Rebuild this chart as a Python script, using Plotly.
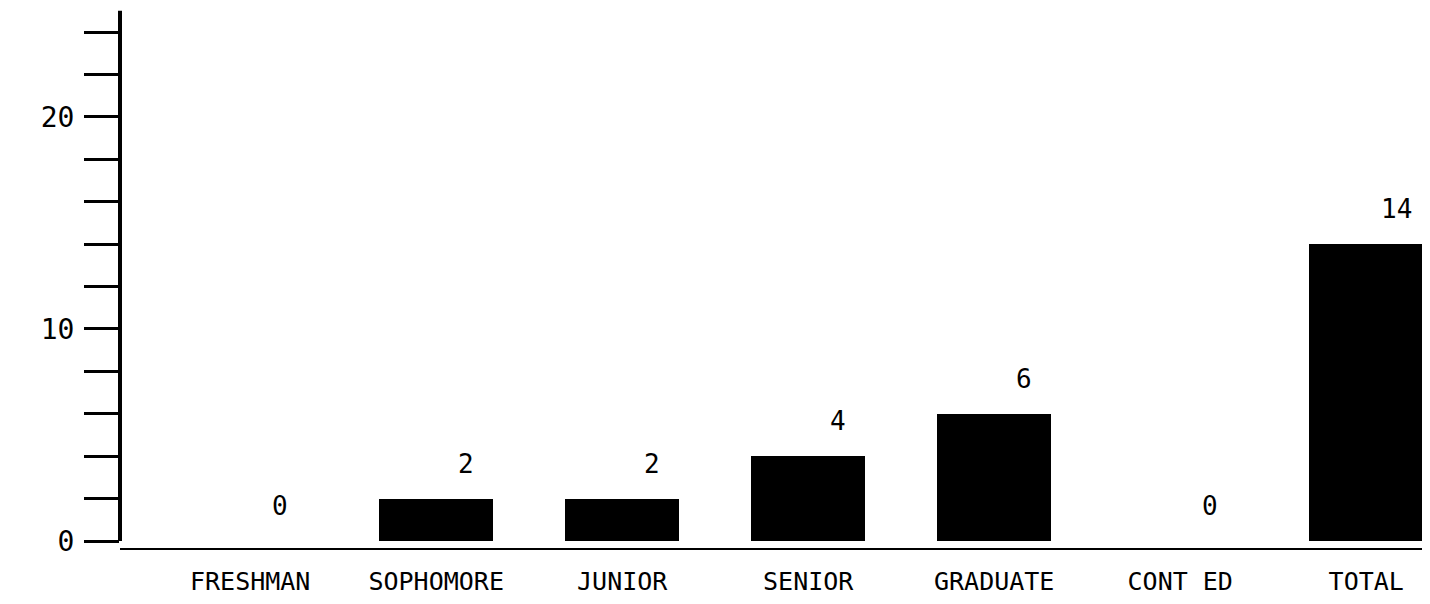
import plotly.graph_objects as go

# Enrollment counts by class level
categories = ["FRESHMAN", "SOPHOMORE", "JUNIOR", "SENIOR", "GRADUATE", "CONT ED", "TOTAL"]
counts = [0, 2, 2, 4, 6, 0, 14]

# Y axis tick marks every 2, labelled every 10
y_ticks = [0, 2, 4, 6, 8, 10, 12, 14, 16, 18, 20, 22, 24]
y_tick_labels = ["0", "", "", "", "", "10", "", "", "", "", "20", "", ""]
y_top = 25

FONT = "DejaVu Sans Mono"

fig = go.Figure()
fig.add_trace(go.Bar(
    x=categories,
    y=counts,
    width=0.61,
    marker=dict(color="black", line=dict(width=0)),
    hoverinfo="x+y",
))

# Value labels, offset up and to the right of each bar top
for cat, val in zip(categories, counts):
    fig.add_annotation(
        x=cat, y=val, xref="x", yref="y",
        text=str(val), showarrow=False,
        yanchor="bottom", xanchor="center",
        yshift=18, xshift=30,
        font=dict(family=FONT, size=26, color="black"),
    )

# Vertical axis line from 0 up to the top of the scale
fig.add_shape(
    type="line", xref="paper", yref="y",
    x0=0, x1=0, y0=0, y1=y_top,
    line=dict(color="black", width=4),
)

fig.update_layout(
    width=1430, height=604,
    margin=dict(l=120, r=8, t=10, b=56, autoexpand=False),
    paper_bgcolor="white",
    plot_bgcolor="white",
    showlegend=False,
    bargap=0,
    xaxis=dict(
        type="category",
        range=[-0.7, 6.3],
        automargin=False,
        showline=True, linecolor="black", linewidth=2,
        showgrid=False, zeroline=False,
        ticks="", ticklabelstandoff=10,
        tickfont=dict(family=FONT, size=25, color="black"),
    ),
    yaxis=dict(
        range=[-0.33, 25.04],
        automargin=False,
        showline=False, showgrid=False, zeroline=False,
        tickmode="array", tickvals=y_ticks, ticktext=y_tick_labels,
        ticks="outside", ticklen=35, tickwidth=3, tickcolor="black",
        ticklabelstandoff=4,
        tickfont=dict(family=FONT, size=28, color="black"),
    ),
)

fig.write_html("out.html")
